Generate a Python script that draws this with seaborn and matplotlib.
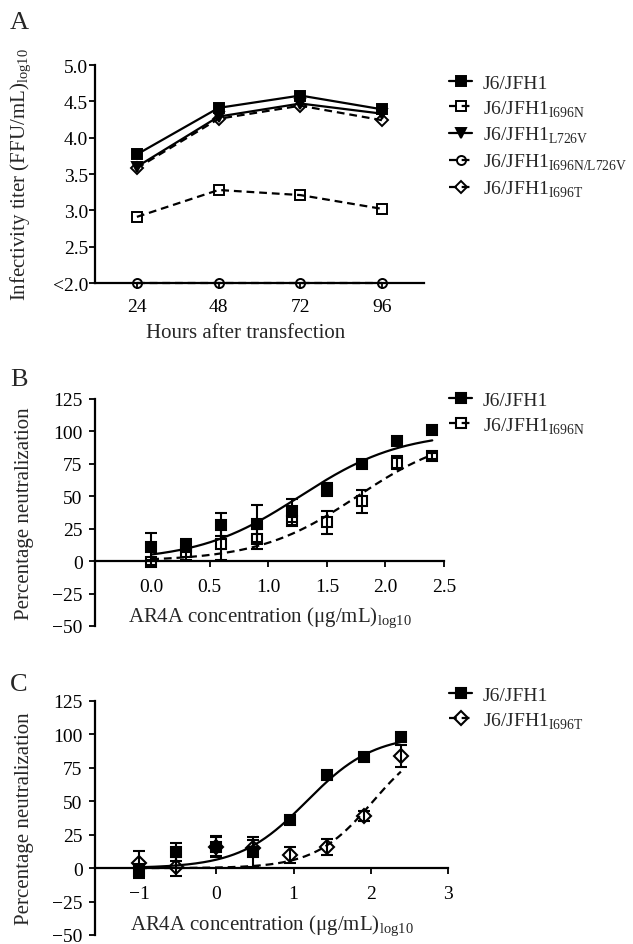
import numpy as np
import pandas as pd
import matplotlib
matplotlib.use('Agg')
import matplotlib.pyplot as plt
from matplotlib.lines import Line2D
import seaborn as sns

# ---- panel A: infectivity titers ----
hours = [24, 48, 72, 96]
titer_wt = [3.77, 4.41, 4.58, 4.39]
titer_i696n = [2.91, 3.28, 3.21, 3.02]
titer_l726v = [3.60, 4.29, 4.47, 4.33]
titer_i696n_l726v = [2.0, 2.0, 2.0, 2.0]
titer_i696t = [3.58, 4.26, 4.44, 4.24]

# ---- panel B: neutralization, J6/JFH1 vs I696N ----
conc_b = [0.0, 0.3, 0.6, 0.9, 1.2, 1.5, 1.8, 2.1, 2.4]
neut_b_wt = [11, 12, 28, 29, 39, 55, 75, 93, 101]
err_b_wt = [11, 5, 9, 14, 9, 5, 2, 2, 1]
neut_b_i696n = [-1, 7, 13, 17, 31, 30, 46, 76, 81]
err_b_i696n = [2, 6, 12, 8, 3, 9, 9, 5, 2]
# fitted dose-response (logEC50, hill slope)
fit_b_wt = (1.27, 1.0)
fit_b_i696n = (1.76, 1.03)

# ---- panel C: neutralization, J6/JFH1 vs I696T ----
conc_c = [-1.0, -0.52, 0.0, 0.48, 0.95, 1.43, 1.91, 2.39]
neut_c_wt = [-2, 12, 16, 12, 36, 70, 83, 98]
err_c_wt = [5, 7, 8, 11, 3, 3, 2, 2]
neut_c_i696t = [4, 1, 16, 15, 10, 16, 39, 84]
err_c_i696t = [9, 7, 7, 6, 6, 6, 4, 8]
fit_c_wt = (1.17, 1.0)
fit_c_i696t = (2.03, 1.15)

W, H = 633, 945
sns.set_style('ticks')
plt.rcParams['font.family'] = ['Liberation Serif', 'DejaVu Serif']
plt.rcParams['mathtext.fontset'] = 'custom'
plt.rcParams['mathtext.rm'] = 'Liberation Serif'
plt.rcParams['axes.unicode_minus'] = True

LW = 1.6
DASH = (0, (3.5, 2.2))


def hill(x, params):
    ec50, slope = params
    return 100 / (1 + 10 ** ((ec50 - x) * slope))


def make_axes(fig, left, right, top, bottom):
    return fig.add_axes([left / W, 1 - bottom / H, (right - left) / W, (bottom - top) / H])


def style(ax, ypad):
    sns.despine(ax=ax)
    for s in ['left', 'bottom']:
        ax.spines[s].set_linewidth(1.6)
        ax.spines[s].set_color('k')
    ax.tick_params(direction='out', length=4, width=1.3, colors='k', labelsize=14)
    ax.tick_params(axis='y', pad=ypad)


def add_legend(ax, handles, labels, top):
    ax.legend(handles, labels, loc='upper left',
              bbox_to_anchor=(449 / W, 1 - top / H), bbox_transform=fig.transFigure,
              frameon=False, fontsize=14, handlelength=1.2, handletextpad=0.55,
              labelspacing=0.34, borderpad=0, borderaxespad=0)


fig = plt.figure(figsize=(W / 100, H / 100), dpi=100)
fig.patch.set_facecolor('white')

# ================= A =================
axA = make_axes(fig, 95, 424, 66, 284)
seriesA = [
    ('J6/JFH1', titer_wt, 's', 'k', '-'),
    ('J6/JFH1$_{\\rm I696N}$', titer_i696n, 's', 'none', DASH),
    ('J6/JFH1$_{\\rm L726V}$', titer_l726v, 'v', 'k', '-'),
    ('J6/JFH1$_{\\rm I696N/L726V}$', titer_i696n_l726v, 'o', 'none', DASH),
    ('J6/JFH1$_{\\rm I696T}$', titer_i696t, 'D', 'none', DASH),
]
sizes = {'s': 6.5, 'v': 7, 'o': 6.5, 'D': 6.3}
handlesA = []
for name, vals, mk, fc, ls in seriesA:
    df = pd.DataFrame({'hours': hours, 'titer': vals})
    sns.lineplot(data=df, x='hours', y='titer', ax=axA, color='k', lw=LW,
                 linestyle=ls, marker=mk, markersize=sizes[mk],
                 markerfacecolor=fc, markeredgecolor='k', markeredgewidth=1.4,
                 clip_on=False, zorder=3)
    handlesA.append(Line2D([], [], color='k', lw=LW, linestyle=ls, marker=mk,
                           markersize=sizes[mk], markerfacecolor=fc,
                           markeredgecolor='k', markeredgewidth=1.4))
axA.set_xlim(11.7, 108.3)
axA.set_ylim(2.0, 5.0)
axA.set_xticks(hours)
axA.set_yticks([2.0, 2.5, 3.0, 3.5, 4.0, 4.5, 5.0])
axA.set_yticklabels(['<2.0', '2.5', '3.0', '3.5', '4.0', '4.5', '5.0'])
style(axA, 1)
axA.tick_params(axis='x', pad=7)
axA.set_xlabel('Hours after transfection', fontsize=15)
axA.set_ylabel('Infectivity titer (FFU/mL)$_{\\rm log10}$', fontsize=15)
axA.xaxis.set_label_coords((246 - 95) / 329, (284 - 324) / 218)
axA.yaxis.set_label_coords((34 - 95) / 329, 0.5)
add_legend(axA, handlesA, [s[0] for s in seriesA], 75)


def neut_panel(ax, conc, groups, xlim, xticks, xticklabels, legend_top, dsize):
    xs = np.linspace(min(conc), max(conc), 200)
    handles = []
    for name, vals, errs, fit, mk, ls in groups:
        curve = pd.DataFrame({'x': xs, 'y': hill(xs, fit)})
        sns.lineplot(data=curve, x='x', y='y', ax=ax, color='k', lw=LW,
                     linestyle=ls, zorder=2)
        fc = 'k' if ls == '-' else 'none'
        ms = 6.8 if mk == 's' else dsize
        ax.errorbar(conc, vals, yerr=errs, fmt=mk, color='k', ms=ms,
                    mfc=fc, mec='k', mew=1.5, elinewidth=1.5, capsize=4,
                    capthick=1.5, zorder=3)
        handles.append(Line2D([], [], color='k', lw=LW, linestyle=ls, marker=mk,
                              markersize=ms, markerfacecolor=fc,
                              markeredgecolor='k', markeredgewidth=1.5))
    ax.set_xlim(*xlim)
    ax.set_ylim(-50, 125)
    ax.set_yticks([-50, -25, 0, 25, 50, 75, 100, 125])
    ax.set_xticks(xticks)
    ax.set_xticklabels(xticklabels)
    style(ax, 5)
    ax.tick_params(axis='x', pad=8)
    ax.spines['bottom'].set_position(('data', 0))
    ax.set_xlabel('AR4A concentration (μg/mL)$_{\\rm log10}$', fontsize=15)
    ax.xaxis.set_label_coords(0.5, 0.095)
    ax.set_ylabel('Percentage neutralization', fontsize=15)
    add_legend(ax, handles, [g[0] for g in groups], legend_top)


# ================= B =================
axB = make_axes(fig, 95, 444, 400, 627)
neut_panel(axB, conc_b,
           [('J6/JFH1', neut_b_wt, err_b_wt, fit_b_wt, 's', '-'),
            ('J6/JFH1$_{\\rm I696N}$', neut_b_i696n, err_b_i696n, fit_b_i696n, 's', DASH)],
           (-0.48, 2.5), [0.0, 0.5, 1.0, 1.5, 2.0, 2.5],
           ['0.0', '0.5', '1.0', '1.5', '2.0', '2.5'], 392, 7)
axB.yaxis.set_label_coords((34 - 95) / 349, 0.5)

# ================= C =================
axC = make_axes(fig, 95, 448, 702, 936)
neut_panel(axC, conc_c,
           [('J6/JFH1', neut_c_wt, err_c_wt, fit_c_wt, 's', '-'),
            ('J6/JFH1$_{\\rm I696T}$', neut_c_i696t, err_c_i696t, fit_c_i696t, 'D', DASH)],
           (-1.57, 3.0), [-1, 0, 1, 2, 3],
           ['\u22121', '0', '1', '2', '3'], 687, 7)
axC.yaxis.set_label_coords((34 - 95) / 353, 0.5)

# panel letters
for letter, top in [('A', 12), ('B', 369), ('C', 674)]:
    fig.text(10 / W, 1 - top / H, letter, fontsize=19, ha='left', va='top')

fig.savefig('out.png', dpi=100, facecolor='white')
